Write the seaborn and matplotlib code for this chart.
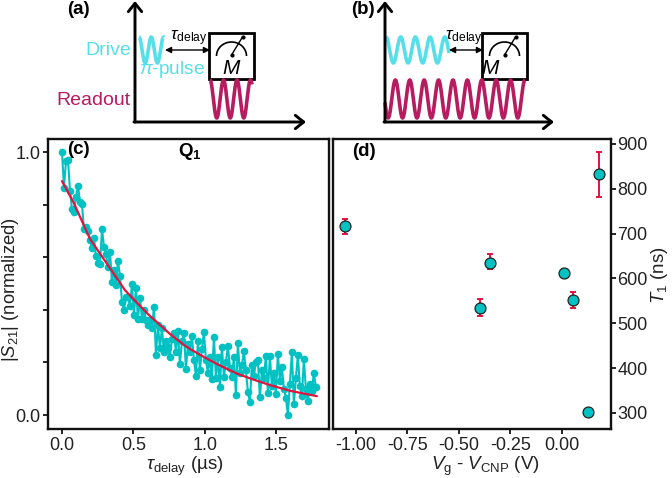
import numpy as np
import pandas as pd
import matplotlib
matplotlib.use("Agg")
import matplotlib.pyplot as plt
import seaborn as sns
from matplotlib.patches import Rectangle, Arc

# panel (c) measured decay
tau_us = [0.000, 0.014, 0.028, 0.042, 0.056, 0.070, 0.084, 0.098, 0.112, 0.126, 0.140, 0.154, 0.168, 0.182,
          0.196, 0.210, 0.224, 0.238, 0.252, 0.266, 0.280, 0.294, 0.308, 0.322, 0.336, 0.350, 0.364, 0.378,
          0.392, 0.406, 0.420, 0.434, 0.448, 0.462, 0.476, 0.490, 0.504, 0.518, 0.532, 0.546, 0.560, 0.574,
          0.588, 0.602, 0.616, 0.630, 0.644, 0.658, 0.672, 0.686, 0.700, 0.714, 0.728, 0.742, 0.756, 0.770,
          0.784, 0.798, 0.812, 0.826, 0.840, 0.854, 0.868, 0.882, 0.896, 0.910, 0.924, 0.938, 0.952, 0.966,
          0.980, 0.994, 1.008, 1.022, 1.036, 1.050, 1.064, 1.078, 1.092, 1.106, 1.120, 1.134, 1.148, 1.162,
          1.176, 1.190, 1.204, 1.218, 1.232, 1.246, 1.260, 1.274, 1.288, 1.302, 1.316, 1.330, 1.344, 1.358,
          1.372, 1.386, 1.400, 1.414, 1.428, 1.442, 1.456, 1.470, 1.484, 1.498, 1.512, 1.526, 1.540, 1.554,
          1.568, 1.582, 1.596, 1.610, 1.624, 1.638, 1.652, 1.666, 1.680, 1.694, 1.708, 1.722, 1.736, 1.750,
          1.764, 1.778]
s21 = [1.00, 0.865, 0.967, 0.972, 0.853, 0.783, 0.773, 0.830, 0.872, 0.811, 0.802, 0.706, 0.716, 0.700,
       0.665, 0.634, 0.672, 0.605, 0.579, 0.574, 0.707, 0.640, 0.612, 0.562, 0.621, 0.506, 0.551, 0.494,
       0.587, 0.530, 0.431, 0.400, 0.450, 0.450, 0.414, 0.500, 0.380, 0.484, 0.365, 0.447, 0.365, 0.400,
       0.361, 0.342, 0.360, 0.330, 0.410, 0.230, 0.342, 0.255, 0.330, 0.240, 0.280, 0.260, 0.220, 0.290,
       0.313, 0.240, 0.320, 0.194, 0.280, 0.313, 0.175, 0.270, 0.240, 0.300, 0.209, 0.150, 0.280, 0.171,
       0.250, 0.315, 0.210, 0.161, 0.220, 0.137, 0.298, 0.142, 0.220, 0.108, 0.260, 0.146, 0.200, 0.262,
       0.180, 0.146, 0.220, 0.076, 0.273, 0.160, 0.190, 0.243, 0.170, 0.089, 0.051, 0.190, 0.150, 0.200,
       0.209, 0.067, 0.170, 0.140, 0.225, 0.085, 0.224, 0.110, 0.160, 0.079, 0.234, 0.130, 0.184, 0.100,
       0.066, 0.000, 0.120, 0.240, 0.042, 0.140, 0.228, 0.110, 0.072, 0.212, 0.100, 0.053, 0.120, 0.090,
       0.161, 0.105]

# panel (c) fit
fit_tau = [0.0, 0.08, 0.196, 0.313, 0.441, 0.6, 0.757, 0.87, 0.99, 1.1, 1.224, 1.34, 1.457, 1.6, 1.785]
fit_s21 = [0.89, 0.81, 0.67, 0.577, 0.475, 0.385, 0.308, 0.26, 0.222, 0.19, 0.158, 0.135, 0.114, 0.092, 0.072]

# panel (d)
vg = [-1.05, -0.398, -0.35, 0.01, 0.053, 0.127, 0.18]
t1 = [716, 535, 635, 611, 551, 303, 832]
t1_low = [698, 517, 621, 604, 533, 303, 782]
t1_high = [733, 555, 655, 620, 569, 303, 883]

TEAL = "#00c2c2"
RED = "#e0143f"
DRIVE = "#56dfe9"
READOUT = "#b71c5f"

sns.set_theme(style="ticks")
plt.rcParams['font.family'] = ['Liberation Sans', 'DejaVu Sans']
plt.rcParams['mathtext.fontset'] = 'custom'
plt.rcParams['mathtext.rm'] = 'Liberation Sans'
plt.rcParams['mathtext.it'] = 'Liberation Sans:italic'
plt.rcParams['mathtext.bf'] = 'Liberation Sans:bold'

W, H = 672, 478
fig = plt.figure(figsize=(W / 100, H / 100), dpi=100)


def axes_px(left, top, right, bottom):
    return fig.add_axes([left / W, (H - bottom) / H, (right - left) / W, (bottom - top) / H])


# ---- schematic layer, in picture pixels
sk = fig.add_axes([0, 0, 1, 1])
sk.set_xlim(0, W)
sk.set_ylim(H, 0)
sk.axis("off")


def wave(x0, x1, y0, y1, period, phase, color):
    x = np.linspace(x0, x1, 400)
    y = (y0 + y1) / 2 - (y1 - y0) / 2 * np.cos(2 * np.pi * (x - x0) / period + phase)
    sk.plot(x, y, color=color, lw=2.6, solid_capstyle="butt")


def big_arrow(x0, y0, x1, y1):
    sk.annotate("", xy=(x1, y1), xytext=(x0, y0),
                arrowprops=dict(arrowstyle="->,head_width=0.4,head_length=0.5", color="black", lw=2.1,
                                shrinkA=0, shrinkB=0))


def meter(x0, x1, m_x):
    sk.add_patch(Rectangle((x0, 33), x1 - x0, 46, fill=False, ec="black", lw=2))
    cx = (x0 + x1) / 2
    sk.add_patch(Arc((cx, 56), 30, 28, theta1=180, theta2=360, color="black", lw=1.2))
    sk.plot([cx, cx + 11], [55, 37], color="black", lw=1)
    sk.plot([cx, cx + 11], [55, 37], ls="none", marker="o", ms=2, color="black")
    sk.text(m_x, 68, "$M$", fontsize=15, ha="center", va="center", color="black")


def delay(x0, x1, tx):
    sk.annotate("", xy=(x1, 50), xytext=(x0, 50),
                arrowprops=dict(arrowstyle="<|-|>,head_width=0.15,head_length=0.3", color="black", lw=1,
                                shrinkA=0, shrinkB=0))
    sk.text(tx, 38, r"$\tau_{\mathrm{delay}}$", fontsize=12.5, ha="center", va="center", color="black")


# (a)
big_arrow(135, 122, 135, 1)
big_arrow(134, 122, 306, 122)
wave(139, 164, 37, 63, 12.3, 0, DRIVE)
wave(210, 252, 80, 118, 13.5, 0, READOUT)
meter(209, 254, 232)
delay(165, 210, 189)
sk.text(131, 50, "Drive", color=DRIVE, fontsize=14, ha="right", va="center")
sk.text(139, 69, r"$\pi$-pulse", color=DRIVE, fontsize=13.8, ha="left", va="center")
sk.text(131, 100, "Readout", color=READOUT, fontsize=14, ha="right", va="center")
sk.text(67, 9, "(a)", fontsize=13.5, fontweight="bold", ha="left", va="center", color="black")

# (b)
big_arrow(385, 122, 385, 1)
big_arrow(384, 122, 554, 122)
wave(386, 449, 37, 63, 14.7, 0, DRIVE)
wave(385, 525, 80, 118, 14.4, np.pi * 0.56, READOUT)
meter(482, 527, 491)
delay(449, 483, 464)
sk.text(351, 9, "(b)", fontsize=13.5, fontweight="bold", ha="left", va="center", color="black")

# ---- panel (c)
ax_c = axes_px(48, 139, 329, 429)
decay = pd.DataFrame({"tau": tau_us, "s21": s21})
sns.lineplot(data=decay, x="tau", y="s21", estimator=None, sort=False, color=TEAL, lw=1.5,
             marker="o", markersize=5.5, markeredgewidth=0, ax=ax_c)
sns.lineplot(x=fit_tau, y=fit_s21, color=RED, lw=1.6, ax=ax_c)
ax_c.set_xlim(-0.098, 1.87)
ax_c.set_ylim(-0.053, 1.05)
ax_c.set_xticks([0, 0.5, 1.0, 1.5], ["0.0", "0.5", "1.0", "1.5"])
ax_c.set_yticks([0, 0.2, 0.4, 0.6, 0.8, 1.0], ["0.0", "", "", "", "", "1.0"])
ax_c.set_xlabel(r"$\tau_{\mathrm{delay}}$ (µs)", fontsize=13.5, va="center", color="#222222")
ax_c.xaxis.set_label_coords(0.488, -0.128)
ax_c.set_ylabel(r"|$S_{21}$| (normalized)", fontsize=13.2, va="center", ha="center", color="#222222")
ax_c.yaxis.set_label_coords(-0.132, 0.48)
ax_c.text(67, 150, "(c)", fontsize=13.5, fontweight="bold", ha="left", va="center", color="black",
          transform=sk.transData)
ax_c.text(190, 151, r"$\mathbf{Q}_{\mathbf{1}}$", fontsize=13.5, ha="center", va="center", color="black",
          transform=sk.transData)

# ---- panel (d)
ax_d = axes_px(333, 139, 611, 429)
t1_arr = np.array(t1)
ax_d.errorbar(vg, t1, yerr=[t1_arr - np.array(t1_low), np.array(t1_high) - t1_arr], ls="none",
              ecolor=RED, elinewidth=1.4, capsize=2.5, capthick=1.4, zorder=2)
sns.scatterplot(x=vg, y=t1, s=62, color=TEAL, edgecolor="#222222", linewidth=0.9, zorder=3, ax=ax_d)
ax_d.set_xlim(-1.11, 0.238)
ax_d.set_ylim(264, 911)
ax_d.set_xticks([-1.0, -0.75, -0.5, -0.25, 0.0], ["-1.00", "-0.75", "-0.50", "-0.25", "0.00"])
ax_d.set_yticks(range(300, 901, 100))
ax_d.yaxis.tick_right()
ax_d.yaxis.set_label_position("right")
ax_d.set_xlabel(r"$V_{\mathrm{g}}$ - $V_{\mathrm{CNP}}$ (V)", fontsize=13.5, va="center", color="#222222")
ax_d.xaxis.set_label_coords(0.547, -0.128)
ax_d.set_ylabel(r"$T_{1}$ (ns)", fontsize=13.5, rotation=90, va="center", ha="center", color="#222222")
ax_d.yaxis.set_label_coords(1.175, 0.53)
ax_d.text(352, 151, "(d)", fontsize=13.5, fontweight="bold", ha="left", va="center", color="black",
          transform=sk.transData)

for ax in (ax_c, ax_d):
    ax.tick_params(axis="both", labelsize=13, length=3.5, width=1.2, pad=2, labelcolor="#222222", color="black")
    for side in ax.spines:
        ax.spines[side].set_visible(True)
        ax.spines[side].set_linewidth(1.7)
        ax.spines[side].set_color("#111111")
ax_d.tick_params(axis="y", pad=1)

fig.savefig("out.png", dpi=100)
